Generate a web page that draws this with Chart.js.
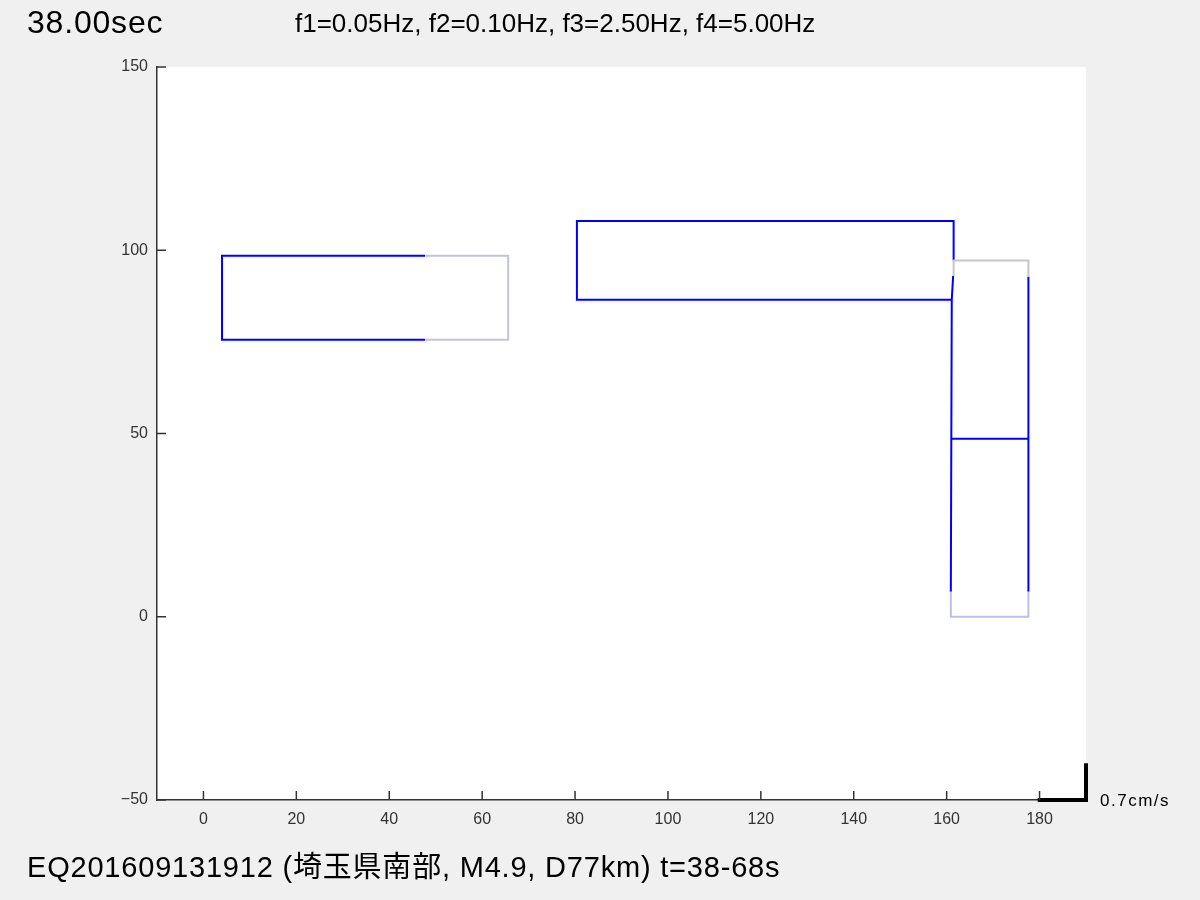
<!DOCTYPE html>
<html>
<head>
<meta charset="utf-8">
<script src="https://cdn.jsdelivr.net/npm/chart.js@4"></script>
<style>
  body { margin: 0; background: #f0f0f0; }
  #wrap { position: relative; width: 1200px; height: 900px; }
  .lbl { position: absolute; line-height: 1; white-space: nowrap; color: #000;
         font-family: "Liberation Sans", Arial, "Noto Sans CJK JP", sans-serif; }
</style>
</head>
<body>
<div id="wrap">
  <canvas id="orbit" width="1200" height="900"></canvas>
  <div class="lbl" style="left:27px;top:6px;font-size:32px;letter-spacing:0.8px">38.00sec</div>
  <div class="lbl" style="left:295px;top:10px;font-size:26px">f1=0.05Hz, f2=0.10Hz, f3=2.50Hz, f4=5.00Hz</div>
  <div class="lbl" style="left:1100px;top:792px;font-size:17px;letter-spacing:1.5px">0.7cm/s</div>
  <div class="lbl" style="left:27px;top:853px;font-size:29px;letter-spacing:0.8px">EQ201609131912 (埼玉県南部, M4.9, D77km) t=38-68s</div>
</div>
<script>
// axis ranges / ticks
const xRange = [-10, 190];
const yRange = [-50, 150];
const xTicks = [0, 20, 40, 60, 80, 100, 120, 140, 160, 180];
const yTicks = [-50, 0, 50, 100, 150];

// current trace (blue) pieces
const blueX1 = [47.7, 4.0, 4.0, 47.7];
const blueY1 = [98.5, 98.5, 75.6, 75.6];
const blueX2 = [161.0, 80.4, 80.4, 161.5, 161.5];
const blueY2 = [86.5, 86.5, 108.0, 108.0, 97.2];
const blueX3 = [161.4, 161.1, 160.9];
const blueY3 = [93.0, 86.5, 6.8];
const blueX4 = [177.6, 177.6];
const blueY4 = [92.8, 6.8];
const blueX5 = [160.9, 177.6];
const blueY5 = [48.6, 48.6];

// older faded trace pieces
const fadeX1 = [47.7, 65.6, 65.6, 47.7];
const fadeY1 = [98.5, 98.5, 75.6, 75.6];
const fadeX2 = [161.5, 161.5, 177.6, 177.6];
const fadeY2 = [93.0, 97.2, 97.2, 92.8];
const fadeX3 = [160.9, 160.9, 177.6, 177.6];
const fadeY3 = [6.8, 0.0, 0.0, 6.8];

// amplitude scale bar (0.7cm/s)
const barX = [179.6, 190, 190];
const barY = [-50, -50, -40];

const pts = (xs, ys) => xs.map((x, i) => ({ x, y: ys[i] }));

function trace(xs, ys, color, width, extra) {
  return Object.assign({
    data: pts(xs, ys),
    showLine: true,
    borderColor: color,
    borderWidth: width,
    pointRadius: 0,
    fill: false,
    tension: 0
  }, extra || {});
}

const panel = {
  id: "panel",
  beforeDraw(chart) {
    const { ctx, chartArea: a } = chart;
    ctx.save();
    ctx.fillStyle = "#ffffff";
    ctx.fillRect(a.left, a.top, a.right - a.left, a.bottom - a.top);
    ctx.restore();
  },
  afterDraw(chart) {
    // ticks point into the plot
    const { ctx, chartArea: a, scales: { x, y } } = chart;
    ctx.save();
    ctx.strokeStyle = "#333";
    ctx.lineWidth = 1.5;
    ctx.beginPath();
    x.ticks.forEach(t => {
      const px = x.getPixelForValue(t.value);
      ctx.moveTo(px, a.bottom);
      ctx.lineTo(px, a.bottom - 9);
    });
    y.ticks.forEach(t => {
      const py = y.getPixelForValue(t.value);
      ctx.moveTo(a.left, py);
      ctx.lineTo(a.left + 9, py);
    });
    ctx.stroke();
    ctx.restore();
  }
};

const tickFont = { family: "'Liberation Sans', Arial, sans-serif", size: 16 };

new Chart(document.getElementById("orbit"), {
  type: "scatter",
  data: {
    datasets: [
      trace(fadeX1, fadeY1, "#c4c4d8", 2),
      trace(fadeX2, fadeY2, "#c6c6c6", 2),
      trace(fadeX3, fadeY3, "#bebee6", 2),
      trace(blueX1, blueY1, "#0000ff", 2),
      trace(blueX2, blueY2, "#0000ff", 2),
      trace(blueX3, blueY3, "#0000ff", 2),
      trace(blueX4, blueY4, "#0000ff", 2),
      trace(blueX5, blueY5, "#0000ff", 2),
      trace(barX, barY, "#000000", 4, { clip: false, borderJoinStyle: "miter" })
    ]
  },
  options: {
    responsive: false,
    animation: false,
    layout: { padding: { top: 67, right: 114, left: 0, bottom: 0 } },
    plugins: { legend: { display: false }, tooltip: { enabled: false } },
    scales: {
      x: {
        type: "linear",
        min: xRange[0],
        max: xRange[1],
        afterFit: s => { s.height = 100; },
        afterBuildTicks: s => { s.ticks = xTicks.map(v => ({ value: v })); },
        ticks: { padding: 10, color: "#333", font: tickFont, maxRotation: 0, autoSkip: false },
        grid: { drawOnChartArea: false, drawTicks: false },
        border: { color: "#333", width: 1.5 }
      },
      y: {
        min: yRange[0],
        max: yRange[1],
        afterFit: s => { s.width = 157; },
        afterBuildTicks: s => { s.ticks = yTicks.map(v => ({ value: v })); },
        ticks: {
          padding: 9, color: "#333", font: tickFont, autoSkip: false,
          callback: v => String(v).replace("-", "\u2212")
        },
        grid: { drawOnChartArea: false, drawTicks: false },
        border: { color: "#333", width: 1.5 }
      }
    }
  },
  plugins: [panel]
});
</script>
</body>
</html>
